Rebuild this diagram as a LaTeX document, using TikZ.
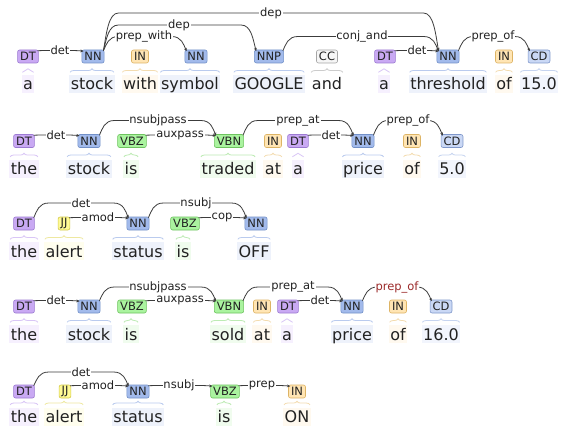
\documentclass[tikz,border=0pt]{standalone}
\usepackage{fontspec}
\setmainfont{DejaVu Sans}
\usetikzlibrary{calc,arrows.meta,decorations.pathreplacing}

% tag colours: fill (F), border (D), word background (W), brace (B)
\definecolor{nnF}{HTML}{A2BAEB}\definecolor{nnD}{HTML}{7290C8}\definecolor{nnW}{HTML}{EEF2FB}\definecolor{nnB}{HTML}{BACBEE}
\definecolor{dtF}{HTML}{C9A9F3}\definecolor{dtD}{HTML}{9C7AD2}\definecolor{dtW}{HTML}{F6F0FE}\definecolor{dtB}{HTML}{D9C6F6}
\definecolor{inF}{HTML}{FFE5B4}\definecolor{inD}{HTML}{DDB465}\definecolor{inW}{HTML}{FFF9EF}\definecolor{inB}{HTML}{F3DCB0}
\definecolor{cdF}{HTML}{CAD8F5}\definecolor{cdD}{HTML}{7F97CA}\definecolor{cdW}{HTML}{F2F5FD}\definecolor{cdB}{HTML}{C6D4F0}
\definecolor{vbF}{HTML}{AAF39F}\definecolor{vbD}{HTML}{6EC35F}\definecolor{vbW}{HTML}{F0FCEE}\definecolor{vbB}{HTML}{BDEBB4}
\definecolor{jjF}{HTML}{FFFA96}\definecolor{jjD}{HTML}{D4CA48}\definecolor{jjW}{HTML}{FFFEEE}\definecolor{jjB}{HTML}{EEE8A0}
\definecolor{ccF}{HTML}{F6F6F6}\definecolor{ccD}{HTML}{A6A6A6}\definecolor{ccW}{HTML}{FFFFFF}\definecolor{ccB}{HTML}{CCCCCC}
\definecolor{lineclr}{HTML}{3C3C3C}
\definecolor{txtclr}{HTML}{222222}
\definecolor{hilite}{HTML}{9C2B2B}

\tikzset{
  tagbox/.style={draw, rounded corners=2pt, inner xsep=2.5pt, inner ysep=0pt,
    minimum height=13pt, line width=0.6pt, text=txtclr,
    font=\fontsize{11.5}{12}\selectfont},
  wordbox/.style={inner xsep=1.5pt, inner ysep=1pt, text height=14pt, text depth=2pt,
    anchor=base, text=txtclr, font=\fontsize{16}{18}\selectfont},
  nntag/.style={tagbox, fill=nnF, draw=nnD}, nnword/.style={wordbox, fill=nnW},
  dttag/.style={tagbox, fill=dtF, draw=dtD}, dtword/.style={wordbox, fill=dtW},
  intag/.style={tagbox, fill=inF, draw=inD}, inword/.style={wordbox, fill=inW},
  cdtag/.style={tagbox, fill=cdF, draw=cdD}, cdword/.style={wordbox, fill=cdW},
  vbtag/.style={tagbox, fill=vbF, draw=vbD}, vbword/.style={wordbox, fill=vbW},
  jjtag/.style={tagbox, fill=jjF, draw=jjD}, jjword/.style={wordbox, fill=jjW},
  cctag/.style={tagbox, fill=ccF, draw=ccD}, ccword/.style={wordbox, fill=ccW},
  bracket/.style={decorate, decoration={brace, amplitude=3.5pt}, line width=0.8pt},
  arcline/.style={draw=lineclr, line width=0.8pt, -{Stealth[length=3.2pt,width=2.8pt]}},
  arclbl/.style={fill=white, inner sep=0.8pt, text=txtclr, font=\fontsize{11.5}{12}\selectfont},
}

% distance from tag centre down to the word baseline
\def\wordoff{33.5}

% token: #1 name, #2 tag x, #3 tag y, #4 kind, #5 tag text, #6 word, #7 word x
\newcommand{\tok}[7]{%
  \node[#4word] (#1w) at (#7,#3+\wordoff) {#6};
  \draw[bracket, draw=#4B] ($(#1w.north west)+(1,-2.5)$) -- ($(#1w.north east)+(-1,-2.5)$);
  \node[#4tag] (#1) at (#2,#3) {#5};
}

% dependency arc: [#1 label style], #2 head, #3 dependent, #4 name, #5 label x, #6 label y, #7 text
\newcommand{\deparc}[7][]{%
  \coordinate (#4) at (#5,#6);
  \coordinate (#4s) at ($(#2.north east)+(-1,1)$);
  \coordinate (#4e) at ($(#3.north west)+(2,1.5)$);
  \draw[arcline] (#4s)
     .. controls ($(#4s)!0.45!(#4s |- #4)+(3,0)$) and ($(#4s |- #4)+(5,0)$) .. ($(#4s |- #4)+(15,0)$)
     -- ($(#4e |- #4)+(-15,0)$)
     .. controls ($(#4e |- #4)+(-5,0)$) and ($(#4e)!0.45!(#4e |- #4)+(-3,0)$) .. (#4e);
  \node[arclbl,#1] (#4t) at (#4) {#7};
}

\begin{document}
\begin{tikzpicture}[x=1pt,y=-1pt]
\fill[white] (0,0) rectangle (561,425);
\useasboundingbox (0,0) rectangle (561,425);

% a stock with symbol GOOGLE and a threshold of 15.0
\tok{a1}{28}{56.5}{dt}{DT}{a}{28}
\tok{a2}{93}{56.5}{nn}{NN}{stock}{92}
\tok{a3}{140}{56.5}{in}{IN}{with}{140}
\tok{a4}{196}{56.5}{nn}{NN}{symbol}{190}
\tok{a5}{269}{56.5}{nn}{NNP}{GOOGLE}{269}
\tok{a6}{327}{56.5}{cc}{CC}{and}{327}
\tok{a7}{385}{56.5}{dt}{DT}{a}{384}
\tok{a8}{448}{56.5}{nn}{NN}{threshold}{448}
\tok{a9}{504}{56.5}{in}{IN}{of}{504}
\tok{a10}{539}{56.5}{cd}{CD}{15.0}{539}
\deparc{a1}{a2}{la1}{60}{50.5}{det}
\deparc{a2}{a4}{la2}{144}{36.5}{prep\_with}
\deparc{a2}{a5}{la3}{179}{25}{dep}
\deparc{a2}{a8}{la4}{271}{13}{dep}
\deparc{a5}{a8}{la5}{362}{36.5}{conj\_and}
\deparc{a7}{a8}{la6}{417}{50.5}{det}
\deparc{a8}{a10}{la7}{493}{36.5}{prep\_of}

% the stock is traded at a price of 5.0
\tok{b1}{24}{141}{dt}{DT}{the}{24}
\tok{b2}{89}{141}{nn}{NN}{stock}{89}
\tok{b3}{132}{141}{vb}{VBZ}{is}{131}
\tok{b4}{229}{141}{vb}{VBN}{traded}{228}
\tok{b5}{273}{141}{in}{IN}{at}{273}
\tok{b6}{298}{141}{dt}{DT}{a}{298}
\tok{b7}{363}{141}{nn}{NN}{price}{363}
\tok{b8}{412}{141}{in}{IN}{of}{412}
\tok{b9}{452}{141}{cd}{CD}{5.0}{452}
\deparc{b1}{b2}{lb1}{56}{135}{det}
\deparc{b2}{b4}{lb2}{158}{120.5}{nsubjpass}
\deparc{b3}{b4}{lb3}{180}{135}{auxpass}
\deparc{b4}{b7}{lb4}{298}{120.5}{prep\_at}
\deparc{b6}{b7}{lb5}{331}{135}{det}
\deparc{b7}{b9}{lb6}{408}{120.5}{prep\_of}

% the alert status is OFF
\tok{c1}{24}{223.5}{dt}{DT}{the}{24}
\tok{c2}{64}{223.5}{jj}{JJ}{alert}{64}
\tok{c3}{138}{223.5}{nn}{NN}{status}{138}
\tok{c4}{185}{223.5}{vb}{VBZ}{is}{183}
\tok{c5}{256}{223.5}{nn}{NN}{OFF}{254}
\deparc{c1}{c3}{lc1}{81}{203}{det}
\deparc{c2}{c3}{lc2}{98}{217.5}{amod}
\deparc{c3}{c5}{lc3}{196}{203}{nsubj}
\deparc{c4}{c5}{lc4}{222}{217.5}{cop}

% the stock is sold at a price of 16.0
\tok{d1}{24}{306.5}{dt}{DT}{the}{24}
\tok{d2}{89}{306.5}{nn}{NN}{stock}{89}
\tok{d3}{132}{306.5}{vb}{VBZ}{is}{131}
\tok{d4}{229}{306.5}{vb}{VBN}{sold}{228}
\tok{d5}{262}{306.5}{in}{IN}{at}{262}
\tok{d6}{288}{306.5}{dt}{DT}{a}{287}
\tok{d7}{352}{306.5}{nn}{NN}{price}{352}
\tok{d8}{398}{306.5}{in}{IN}{of}{398}
\tok{d9}{441}{306.5}{cd}{CD}{16.0}{441}
\deparc{d1}{d2}{ld1}{56}{300.5}{det}
\deparc{d2}{d4}{ld2}{158}{287}{nsubjpass}
\deparc{d3}{d4}{ld3}{180}{300.5}{auxpass}
\deparc{d4}{d7}{ld4}{293}{287}{prep\_at}
\deparc{d6}{d7}{ld5}{320}{300.5}{det}
\deparc[text=hilite]{d7}{d9}{ld6}{397}{287}{prep\_of}

% the alert status is ON (last line sits a little higher so it fits)
\def\wordoff{31}
\tok{e1}{24}{391.5}{dt}{DT}{the}{24}
\tok{e2}{65}{391.5}{jj}{JJ}{alert}{64}
\tok{e3}{138}{391.5}{nn}{NN}{status}{138}
\tok{e4}{225}{391.5}{vb}{VBZ}{is}{224}
\tok{e5}{297}{391.5}{in}{IN}{ON}{297}
\deparc{e1}{e3}{le1}{81}{372}{det}
\deparc{e2}{e3}{le2}{98}{385.5}{amod}
\deparc{e3}{e4}{le3}{179}{385.5}{nsubj}
\deparc{e4}{e5}{le4}{262}{385.5}{prep}
\end{tikzpicture}
\end{document}
